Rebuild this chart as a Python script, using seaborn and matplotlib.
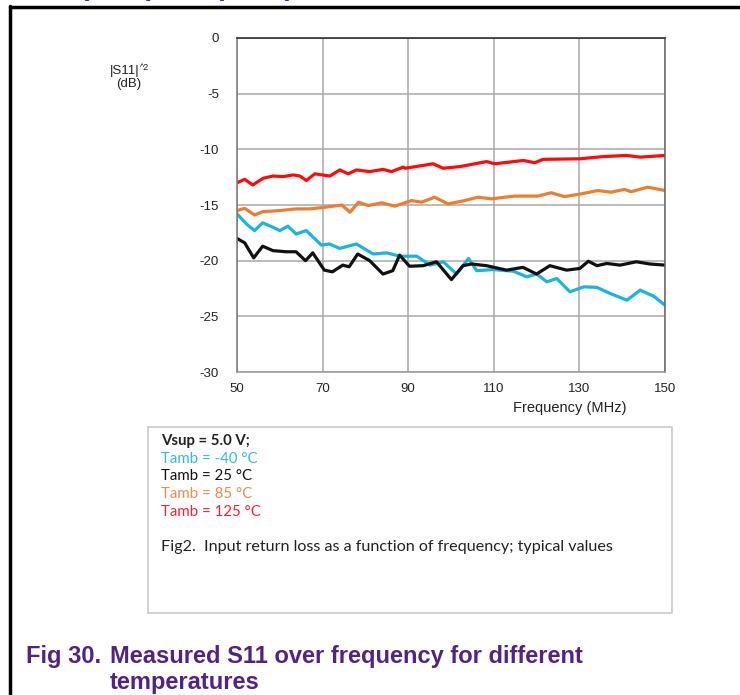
import pandas as pd
import matplotlib.pyplot as plt
import seaborn as sns
from matplotlib.patches import Rectangle
from matplotlib.lines import Line2D

# Tamb = -40 degC (cyan)
freq_m40 = [50, 52.2, 54.1, 56, 58.4, 60, 61.9, 63.8, 66.2, 69.7, 71.6, 74, 77.9, 81.8,
            85, 88.1, 92, 95.1, 98.2, 101.3, 104.1, 106, 109.9, 114.6, 117.7, 120,
            122.4, 124.7, 127.8, 131, 134.1, 137.2, 141.1, 144.2, 147.4, 150]
s11_m40 = [-15.8, -16.7, -17.3, -16.6, -17.0, -17.3, -16.9, -17.6, -17.3, -18.6, -18.5,
           -18.9, -18.5, -19.4, -19.3, -19.6, -19.6, -20.4, -20.1, -21.2, -19.8, -20.9,
           -20.8, -20.95, -21.45, -21.2, -21.9, -21.6, -22.8, -22.35, -22.4, -22.95,
           -23.55, -22.65, -23.2, -24.0]

# Tamb = 25 degC (black)
freq_25 = [50, 51.8, 53.9, 56, 58.4, 61.5, 63.8, 66, 67.7, 70.4, 72.3, 74.7, 76.2, 78.2,
           81, 84.1, 86.4, 88, 90.3, 93.5, 96.6, 100.1, 102.8, 104.8, 108.3, 113,
           116.8, 120, 123.1, 127, 130.1, 132.1, 134.1, 136.4, 139.5, 143.3, 146.5, 150]
s11_25 = [-18.0, -18.4, -19.75, -18.7, -19.1, -19.2, -19.2, -20.0, -19.3, -20.85, -21.0,
          -20.4, -20.55, -19.4, -20.0, -21.2, -20.9, -19.5, -20.5, -20.45, -20.1, -21.7,
          -20.45, -20.3, -20.45, -20.85, -20.6, -21.2, -20.45, -20.85, -20.7, -20.05,
          -20.45, -20.25, -20.4, -20.1, -20.3, -20.4]

# Tamb = 85 degC (orange)
freq_85 = [50, 51.8, 54.1, 56, 60, 63.8, 67, 70.6, 74.5, 76.4, 78.4, 80.7, 83.8, 86.9,
           90.8, 93.1, 96.2, 99.3, 103.2, 106.3, 109.4, 114.8, 120.3, 123.4, 126.5,
           130.4, 134.3, 137.4, 140.5, 142.1, 146, 150]
s11_85 = [-15.5, -15.3, -15.9, -15.6, -15.5, -15.35, -15.35, -15.2, -15.0, -15.65, -14.75,
          -15.05, -14.8, -15.1, -14.6, -14.75, -14.3, -14.9, -14.6, -14.3, -14.45, -14.2,
          -14.2, -13.9, -14.25, -14.0, -13.7, -13.85, -13.6, -13.8, -13.4, -13.7]

# Tamb = 125 degC (red)
freq_125 = [50, 51.8, 53.7, 56.1, 58.4, 60.8, 63.1, 64.7, 66.2, 68.2, 71.7, 74, 76, 77.9,
            81, 84.1, 86.1, 88.8, 89.3, 95.8, 98.2, 102.1, 108.3, 110.2, 116.9, 119.6,
            121.5, 130.1, 135.6, 141, 144.2, 150]
s11_125 = [-13.0, -12.7, -13.2, -12.6, -12.4, -12.45, -12.3, -12.4, -12.8, -12.2, -12.4,
           -11.85, -12.2, -11.85, -12.0, -11.8, -12.0, -11.6, -11.7, -11.3, -11.7, -11.55,
           -11.1, -11.3, -11.0, -11.2, -10.9, -10.85, -10.65, -10.55, -10.7, -10.55]

x_ticks = [50, 70, 90, 110, 130, 150]
y_ticks = [0, -5, -10, -15, -20, -25, -30]

legend_lines = ["Vsup = 5.0 V;", "Tamb = -40 \u00b0C", "Tamb = 25 \u00b0C",
                "Tamb = 85 \u00b0C", "Tamb = 125 \u00b0C"]
legend_colors = ["#222222", "#33bcd8", "#111111", "#f08a4b", "#f5203a"]

series = [
    (freq_m40, s11_m40, "#1ab4dc"),
    (freq_25, s11_25, "#111111"),
    (freq_85, s11_85, "#ec7d31"),
    (freq_125, s11_125, "#ff0a0a"),
]

sns.set_style("white")
plt.rcParams['font.family'] = ['Liberation Sans', 'DejaVu Sans']

fig = plt.figure(figsize=(7.4, 6.95), dpi=100)
ax = fig.add_axes([237 / 740, 1 - 372 / 695, 428 / 740, 334 / 695])

for fx, fy, col in series:
    df = pd.DataFrame({"Frequency": fx, "S11": fy})
    sns.lineplot(data=df, x="Frequency", y="S11", color=col, linewidth=2.3, ax=ax)

ax.set_xlim(50, 150)
ax.set_ylim(-30, 0)
ax.set_xticks(x_ticks)
ax.set_yticks(y_ticks)
ax.set_xticklabels([str(v) for v in x_ticks], fontsize=9.5, color="#222")
ax.set_yticklabels([str(v) for v in y_ticks], fontsize=9.5, color="#222")
ax.tick_params(axis="y", length=0, pad=13)
ax.tick_params(axis="x", length=0, pad=8)
ax.grid(True, color="#a8a8a8", linewidth=1.1)
ax.set_axisbelow(True)
ax.set_xlabel("")
ax.set_ylabel("")
ax.spines["top"].set_color("#222222")
ax.spines["left"].set_color("#777777")
ax.spines["right"].set_color("#666666")
ax.spines["bottom"].set_color("#999999")
for s in ax.spines.values():
    s.set_linewidth(1.1)

# axis titles placed as in the datasheet picture
fig.text(125 / 740, 1 - 71 / 695, "|S11|", fontsize=9.5, ha="center", va="center", color="#222")
fig.text(140 / 740, 1 - 67 / 695, "^2", fontsize=6.5, ha="left", va="center", color="#222")
fig.text(129 / 740, 1 - 84 / 695, "(dB)", fontsize=9.5, ha="center", va="center", color="#222")
fig.text(570 / 740, 1 - 408 / 695, "Frequency (MHz)", fontsize=10.5, ha="center", va="center", color="#222")

# legend / note box
fig.patches.append(Rectangle((148 / 740, 1 - 613 / 695), 524 / 740, 186 / 695,
                             transform=fig.transFigure, fill=False,
                             edgecolor="#c8c8c8", linewidth=1.2))
for i, (txt, col) in enumerate(zip(legend_lines, legend_colors)):
    fig.text(161 / 740, 1 - (441.5 + i * 17.5) / 695, txt, fontsize=10.8, color=col,
             family=["Lato", "DejaVu Sans"], va="center",
             fontweight="bold" if i == 0 else "normal")
fig.text(161 / 740, 1 - 547 / 695, "Fig2.  Input return loss as a function of frequency; typical values",
         fontsize=11.6, color="#222", family=["Lato", "DejaVu Sans"], va="center")

# page frame and cut-off heading
fig.lines.append(Line2D([10 / 740, 10 / 740], [0, 1 - 6 / 695], transform=fig.transFigure,
                        color="black", linewidth=2.5))
fig.lines.append(Line2D([10 / 740, 1], [1 - 7 / 695, 1 - 7 / 695], transform=fig.transFigure,
                        color="black", linewidth=2.5))
purple = "#52247f"
for px, glyph in [(80, "("), (146, ")"), (215, "("), (277, "l)")]:
    fig.text(px / 740, 1 + 12 / 695, glyph, fontsize=20, fontweight="bold", color=purple,
             va="center", ha="left")

fig.text(26 / 740, 1 - 657 / 695, "Fig 30.", fontsize=17, fontweight="bold", color=purple, va="center")
fig.text(110 / 740, 1 - 657 / 695, "Measured S11 over frequency for different",
         fontsize=17, fontweight="bold", color=purple, va="center")
fig.text(110 / 740, 1 - 682 / 695, "temperatures", fontsize=17, fontweight="bold",
         color=purple, va="center")

plt.savefig("out.png", dpi=100)
